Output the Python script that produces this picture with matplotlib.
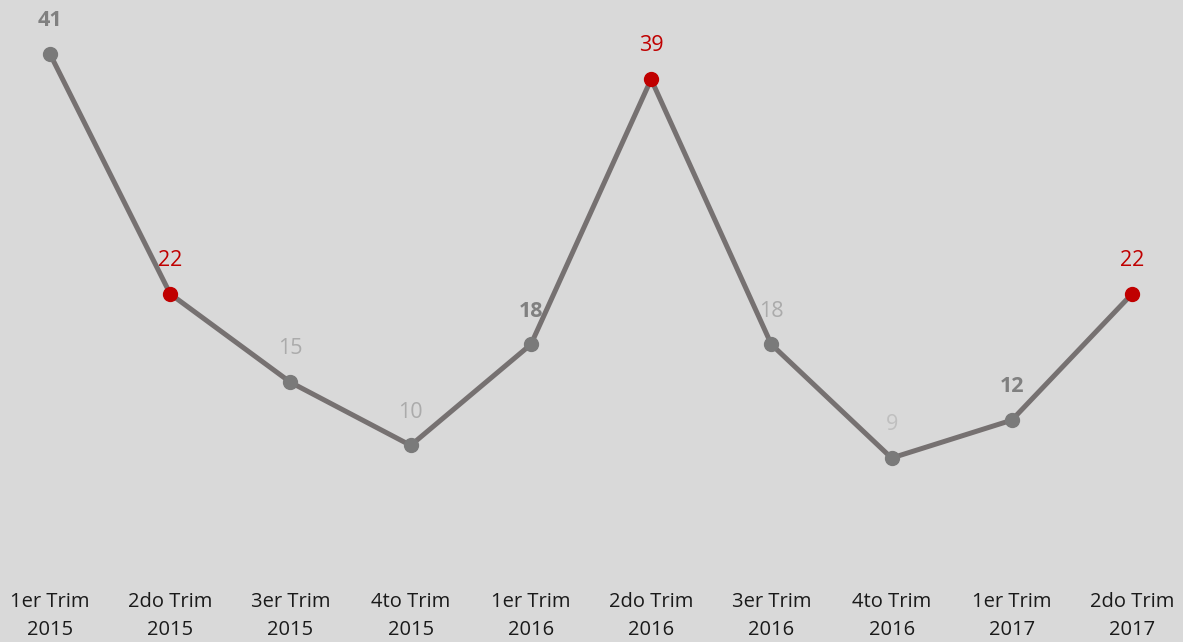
import numpy as np
import matplotlib.pyplot as plt

quarters = ["1er Trim\n2015", "2do Trim\n2015", "3er Trim\n2015", "4to Trim\n2015",
            "1er Trim\n2016", "2do Trim\n2016", "3er Trim\n2016", "4to Trim\n2016",
            "1er Trim\n2017", "2do Trim\n2017"]
values = [41, 22, 15, 10, 18, 39, 18, 9, 12, 22]
# label style per point: 'bold', 'red', 'light'
label_style = ["bold", "red", "light", "light", "bold", "red", "light", "light", "bold", "red"]

bg = "#D9D9D9"
line_col = "#767171"
red = "#C00000"

fig = plt.figure(figsize=(11.83, 6.42), dpi=100, facecolor=bg)
ax = fig.add_axes([0, 0.084, 1, 0.916], facecolor=bg)

x = np.arange(len(values))
ax.plot(x, values, color=line_col, linewidth=3.6, zorder=2, solid_capstyle="round")

for xi, v, st in zip(x, values, label_style):
    mc = red if st == "red" else "#7A7A7A"
    ax.plot(xi, v, "o", color=mc, markersize=10, zorder=3)
    if st == "red":
        color, weight = red, "normal"
    elif st == "bold":
        color, weight = "#808080", "bold"
    else:
        color, weight = "#ABABAB", "normal"
    if v == 9:
        color = "#BFBFBF"
    ax.annotate(str(v), (xi, v), xytext=(0, 24), textcoords="offset points",
                ha="center", va="center", fontsize=15.5, color=color,
                fontweight=weight, family="Open Sans")

ax.set_xlim(-0.416, 9.424)
ax.set_ylim(-1.30, 45.28)
ax.set_xticks(x)
ax.set_xticklabels(quarters, fontsize=14.5, family="Open Sans", color="#1a1a1a",
                   linespacing=1.5)
ax.tick_params(axis="x", length=0, pad=3)
ax.set_yticks([])
for s in ax.spines.values():
    s.set_visible(False)

fig.savefig("out.png", dpi=100, facecolor=bg)
